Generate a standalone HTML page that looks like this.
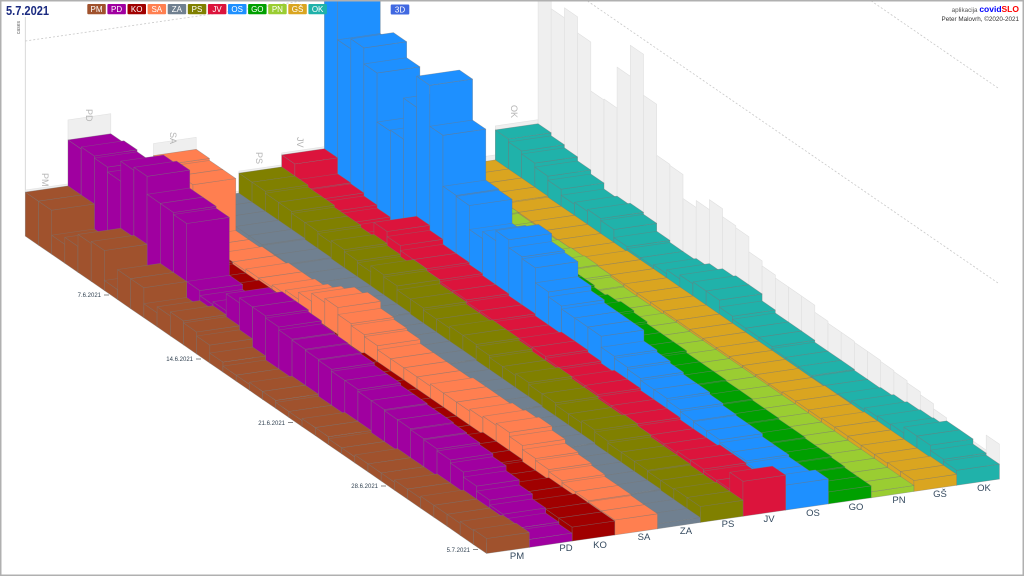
<!DOCTYPE html>
<html><head><meta charset="utf-8">
<style>
html,body{margin:0;padding:0;background:#fff;}
#wrap{position:relative;width:1024px;height:576px;overflow:hidden;background:#fff;}
svg{position:absolute;left:0;top:0;font-family:"Liberation Sans",sans-serif;}
</style></head><body>
<div id="wrap">
<svg id="chart" width="1024" height="576" viewBox="0 0 1024 576" xmlns="http://www.w3.org/2000/svg">
<g id="grid" fill="none" stroke="#c8c8c8" stroke-width="0.8" stroke-dasharray="2,2">
<line x1="25.3" y1="41" x2="538" y2="-33"/>
<line x1="538" y1="-33" x2="999.4" y2="284"/>
<line x1="538" y1="-228" x2="999.4" y2="89"/>
</g>
<line x1="25.3" y1="17" x2="25.3" y2="236" stroke="#d0d0d0" stroke-width="0.8"/>
<g id="walls"></g>
<g id="bars"></g>
<g id="backlabels" font-size="9" fill="#b5b5b5">
<text transform="translate(42,173) rotate(90)">PM</text>
<text transform="translate(86,109) rotate(90)">PD</text>
<text transform="translate(170,132) rotate(90)">SA</text>
<text transform="translate(256,152) rotate(90)">PS</text>
<text transform="translate(297,137) rotate(90)">JV</text>
<text transform="translate(511,105) rotate(90)">OK</text>
</g>
<g id="dates" font-size="6" fill="#2f3f4f" text-anchor="end">
<text x="101" y="297">7.6.2021</text>
<text x="193" y="361">14.6.2021</text>
<text x="285" y="425">21.6.2021</text>
<text x="378" y="488">28.6.2021</text>
<text x="470" y="552">5.7.2021</text>
</g>
<g stroke="#555" stroke-width="0.7">
<line x1="104" y1="295" x2="109" y2="295"/>
<line x1="196" y1="359" x2="201" y2="359"/>
<line x1="288" y1="422.6" x2="293" y2="422.6"/>
<line x1="381" y1="486" x2="386" y2="486"/>
<line x1="473" y1="549.6" x2="478" y2="549.6"/>
</g>
<g id="series" font-size="9.5" fill="#34495e" text-anchor="middle">
<text x="517" y="559">PM</text>
<text x="566" y="551">PD</text>
<text x="600" y="548">KO</text>
<text x="644" y="540">SA</text>
<text x="686" y="534">ZA</text>
<text x="728" y="527">PS</text>
<text x="769" y="522">JV</text>
<text x="813" y="516">OS</text>
<text x="856" y="510">GO</text>
<text x="899" y="503">PN</text>
<text x="940" y="497">GŠ</text>
<text x="984" y="491">OK</text>
</g>
<text x="6" y="15" font-size="13" font-weight="bold" fill="#1a2a80" textLength="43" lengthAdjust="spacingAndGlyphs">5.7.2021</text>
<text transform="translate(20,34) rotate(-90)" font-size="5" fill="#666">cases</text>
<g id="legend" font-size="8" fill="#fff" text-anchor="middle">
<rect x="87.3" y="4" width="18.5" height="10.3" rx="1" fill="#a0522d"/><text x="96.5" y="12.2">PM</text>
<rect x="107.4" y="4" width="18.5" height="10.3" rx="1" fill="#a000a0"/><text x="116.6" y="12.2">PD</text>
<rect x="127.5" y="4" width="18.5" height="10.3" rx="1" fill="#a00000"/><text x="136.7" y="12.2">KO</text>
<rect x="147.6" y="4" width="18.5" height="10.3" rx="1" fill="#ff7f50"/><text x="156.8" y="12.2">SA</text>
<rect x="167.7" y="4" width="18.5" height="10.3" rx="1" fill="#708090"/><text x="176.9" y="12.2">ZA</text>
<rect x="187.8" y="4" width="18.5" height="10.3" rx="1" fill="#808000"/><text x="197" y="12.2">PS</text>
<rect x="207.9" y="4" width="18.5" height="10.3" rx="1" fill="#dc143c"/><text x="217.1" y="12.2">JV</text>
<rect x="228" y="4" width="18.5" height="10.3" rx="1" fill="#1e90ff"/><text x="237.2" y="12.2">OS</text>
<rect x="248.1" y="4" width="18.5" height="10.3" rx="1" fill="#00a000"/><text x="257.3" y="12.2">GO</text>
<rect x="268.2" y="4" width="18.5" height="10.3" rx="1" fill="#9acd32"/><text x="277.4" y="12.2">PN</text>
<rect x="288.3" y="4" width="18.5" height="10.3" rx="1" fill="#daa520"/><text x="297.5" y="12.2">GŠ</text>
<rect x="308.4" y="4" width="18.5" height="10.3" rx="1" fill="#20b2aa"/><text x="317.6" y="12.2">OK</text>
<rect x="390.7" y="4.5" width="18.6" height="10" rx="1" fill="#4169e1"/><text x="400" y="12.5">3D</text>
</g>
<text x="1019" y="12" text-anchor="end" font-size="6.3" fill="#555">aplikacija <tspan font-weight="bold" font-size="8.5" fill="#0000ff">covid</tspan><tspan font-weight="bold" font-size="8.5" fill="#ff0000">SLO</tspan></text>
<text x="1019" y="21" text-anchor="end" font-size="6.3" fill="#333">Peter Malovrh, ©2020-2021</text>
<rect x="0.75" y="0.75" width="1022.5" height="574.5" fill="none" stroke="#b0b0b0" stroke-width="1.5"/>
</svg>
</div>
<script>
(function(){
var N=35;
function pad(a){while(a.length<N)a.push(a[a.length-1]);return a.slice(0,N);}
var D=[
pad([44,44,19,26,38,40,10,30,30,14,20,24,22,18,10,6,6,8,8,6,6,8,8,6,6,8,8,8,10,10,12,12,12,14,15]),
pad([90,92,90,85,105,108,90,90,88,30,25,28,45,50,50,48,45,44,43,42,40,40,38,38,37,37,36,35,33,30,25,20,15,10,8]),
pad([10,10,12,12,10,10,8,8,10,10,12,12,10,10,8,8,10,10,10,10,10,10,10,10,10,12,12,12,10,10,12,12,14,14,14]),
pad([62,60,60,8,8,10,10,12,12,14,18,25,33,37,30,28,26,22,22,22,22,24,24,24,26,28,30,26,22,20,18,16,16,15,15]),
pad([12,12,12,12,12,11,11,10,10,10,10,10,10,9,9,9,9,9,8,8,8,8,8,7,7,7,7,6,6,6,6,6,5,5,5]),
pad([32,32,30,30,28,28,26,28,26,24,30,28,24,24,22,22,24,24,22,20,20,22,20,20,18,18,20,18,16,16,16,15,15,16,16]),
pad([44,28,27,24,21,18,20,40,35,30,30,28,26,26,24,24,22,22,24,24,22,20,22,22,20,20,20,18,18,18,20,20,18,18,35]),
pad([230,162,172,156,107,108,149,180,139,88,87,63,70,80,72,70,55,50,47,47,47,36,34,32,30,30,28,26,25,25,22,22,20,20,25]),
pad([30,30,29,29,28,28,27,27,26,25,24,24,22,22,20,22,24,22,20,20,20,18,18,18,17,17,16,16,15,15,14,14,13,12,12]),
pad([8,8,8,7,7,6,6,6,7,8,9,8,6,5,5,5,6,6,6,6,6,6,6,6,6,6,6,6,6,6,6,6,6,6,6]),
pad([8,8,8,8,7,7,7,7,7,7,8,8,8,8,8,8,8,8,8,8,8,8,8,8,8,9,9,9,10,10,10,10,10,11,11]),
pad([38,35,32,28,24,18,20,22,20,12,10,10,12,16,20,22,22,15,12,12,12,10,10,10,9,9,10,12,14,15,16,22,22,17,15])
];
var C=['#a0522d','#a000a0','#a00000','#ff7f50','#708090','#808000','#dc143c','#1e90ff','#00a000','#9acd32','#daa520','#20b2aa'];
function P(u,v,h){return [25.3+42.73*u+13.18*v, 236.1-6.2*u+9.07*v-h];}
function poly(pts,fill,stroke,sw){
  return '<polygon points="'+pts.map(function(p){return p[0].toFixed(1)+','+p[1].toFixed(1);}).join(' ')+'" fill="'+fill+'" stroke="'+stroke+'" stroke-width="'+sw+'" stroke-linejoin="round"/>';
}
var w='';
var backOverride={3:72,11:40};
for(var s=0;s<12;s++){
  var H=Math.max.apply(null,D[s]); if(backOverride[s])H=Math.max(H,backOverride[s]);
  H+=2;
  w+=poly([P(s,0,0),P(s+1,0,0),P(s+1,0,H),P(s,0,H)],'#efefef','#e2e2e2',0.6);
}
for(var d=0;d<N;d++){
  var m=0;for(var s2=0;s2<12;s2++)m=Math.max(m,D[s2][d]);
  w+=poly([P(12,d,0),P(12,d+1,0),P(12,d+1,m),P(12,d,m)],'#efefef','#e0e0e0',0.6);
}
document.getElementById('walls').innerHTML=w;
var b='';
var st='rgba(120,120,120,0.5)';
for(var s=11;s>=0;s--){
  for(var d=0;d<N;d++){
    var h=D[s][d], c=C[s];
    b+=poly([P(s,d,0),P(s,d+1,0),P(s,d+1,h),P(s,d,h)],c,st,0.6);
    b+=poly([P(s,d+1,0),P(s+1,d+1,0),P(s+1,d+1,h),P(s,d+1,h)],c,st,0.6);
    b+=poly([P(s,d,h),P(s+1,d,h),P(s+1,d+1,h),P(s,d+1,h)],c,st,0.6);
  }
}
document.getElementById('bars').innerHTML=b;
})();
</script>
</body></html>
